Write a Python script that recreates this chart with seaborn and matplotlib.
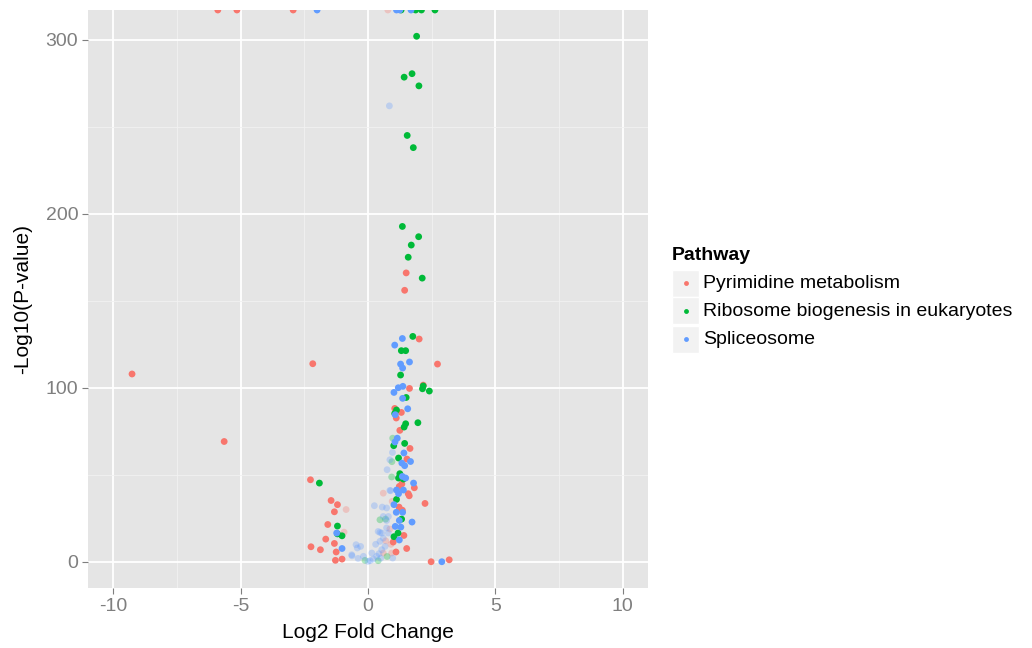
import numpy as np
import pandas as pd
import matplotlib.pyplot as plt
import seaborn as sns
from matplotlib.ticker import MultipleLocator
from matplotlib.patches import Rectangle
from matplotlib.lines import Line2D

pathways = ['Pyrimidine metabolism', 'Ribosome biogenesis in eukaryotes', 'Spliceosome']
colors = ['#F8766D', '#00BA38', '#619CFF']

# points with |log2FC| > 1 (np.inf = p-value of 0, drawn at the panel edge like ggplot)
pyr_fc = [-5.9, -5.15, -2.94, -9.27, -2.17, -5.65, -2.26, -1.45, -1.2, -1.32, -1.58, -1.66,
          -2.24, -1.87, -1.32, -1.25, -1.28, -1.02, 1.50, 1.44, 2.01, 2.73, 1.63, 2.17, 1.05,
          1.31, 1.11, 1.25, 1.65, 1.53, 1.33, 1.23, 1.82, 1.58, 1.62, 2.24, 1.22, 1.35, 1.41,
          1.52, 1.10, 0.99, 2.48, 3.19]
pyr_p = [np.inf, np.inf, np.inf, 107.9, 113.8, 69.1, 47.1, 35.2, 32.8, 28.7, 21.4, 13.0,
         8.6, 6.9, 10.5, 5.6, 0.8, 1.5, 166, 156, 128, 113.6, 99.6, 101.5, 88.1,
         85.8, 82.6, 75.5, 65.1, 59.0, 44.7, 43.3, 42.5, 39.1, 37.9, 33.5, 31.4, 29.6, 15.1,
         7.6, 5.6, 11.3, 0.0, 1.1]

rib_fc = [1.3, 1.87, 2.1, 2.63, 1.91, 1.42, 1.73, 2.0, 1.54, 1.78, 1.35, 1.99, 1.70, 1.58,
          2.13, 1.76, 1.31, 1.48, 1.28, 2.17, 2.14, 2.41, 1.50, 1.12, 1.05, 1.96, 1.48, 1.42,
          1.01, 1.44, 1.20, 1.25, 1.20, 1.39, 1.12, 1.32, 1.18, 1.02, -1.91, -1.2, -1.02, -1.2]
rib_p = [np.inf, np.inf, np.inf, np.inf, 302, 278.5, 280.5, 273.5, 245, 238, 192.7, 186.8, 182, 175,
         163, 129.5, 121.3, 121.3, 107.3, 101, 99.4, 98.1, 94.4, 87.2, 85.2, 79.9, 79.3, 77.4,
         66.7, 68.0, 59.6, 50.6, 48.1, 47.5, 35.8, 24.5, 16.5, 14.4, 45.2, 20.5, 14.9, 16.0]

spl_fc = [-2.0, 1.12, 1.25, 1.69, 1.35, 1.05, 1.28, 1.36, 1.63, 1.19, 1.37, 1.02, 1.36, 1.56,
          1.07, 1.15, 1.06, 1.41, 1.33, 1.44, 1.67, 1.35, 1.48, 1.79, 1.12, 1.39, 1.20, 1.02,
          1.11, 1.36, 1.23, 1.73, 1.07, 1.29, 1.23, 2.90, -1.23, -1.02]
spl_p = [np.inf, np.inf, np.inf, np.inf, 128.3, 124.5, 113.6, 111.3, 114.8, 100, 100.8, 97.3, 93.9, 87.9,
         84.5, 71.0, 68.8, 62.5, 56.7, 55.2, 57.6, 49.0, 48.1, 45.2, 41.2, 41.2, 39.1, 32.8,
         28.4, 28.4, 23.7, 22.8, 20.3, 19.9, 12.5, 0.0, 16.5, 7.6]

# points with |log2FC| < 1 (drawn faded)
pyr_fc_low = [0.78, -0.86, 0.6, 0.95, -0.94, 0.86, 0.6, 0.93, 0.7, 0.9]
pyr_p_low = [np.inf, 30.0, 39.4, 34.7, 17.0, 18.8, 5.0, 5.0, 12.0, 10.0]
rib_fc_low = [0.97, 0.94, 0.93, 0.47, 0.69, -0.12, 0.4, 0.75]
rib_p_low = [71.0, 57.5, 48.7, 24.1, 24.5, 0.8, 0.6, 3.0]
spl_fc_low = [-0.47, -0.29, -0.42, -0.64, -0.18, 0.0, 0.08, 0.21, 0.43, 0.54, 0.67, 0.47, 0.6,
              0.8, 0.54, 0.73, 0.4, 0.34, 0.97, 0.25, 0.56, 0.73, 0.75, 0.86, 0.96, 0.86, 0.89,
              0.73, -0.39, 0.84, 0.47, -0.63, 0.6, 0.8, 0.3, 0.15, 0.5]
spl_p_low = [9.8, 8.8, 7.9, 4.0, 3.1, 0.2, 0.6, 1.5, 4.6, 6.9, 8.8, 11.7, 13.6,
             16.5, 16.5, 19.4, 17.4, 3.1, 2.1, 32.2, 31.4, 30.9, 52.9, 58.6, 62.8, 41.0, 40.8,
             23.7, 1.9, 262, 16.8, 3.4, 26.0, 26.0, 10.0, 5.0, 2.0]


def make_df(fcs, ps):
    parts = []
    for name, fc, p in zip(pathways, fcs, ps):
        parts.append(pd.DataFrame({'fc': fc, 'logp': p, 'Pathway': name}))
    return pd.concat(parts, ignore_index=True)


df = make_df([pyr_fc, rib_fc, spl_fc], [pyr_p, rib_p, spl_p])
df_low = make_df([pyr_fc_low, rib_fc_low, spl_fc_low], [pyr_p_low, rib_p_low, spl_p_low])

# ggplot style limits: 5% expansion of finite range, infinite values sit on the edge
allp = pd.concat([df['logp'], df_low['logp']])
fin = allp[np.isfinite(allp)]
rng = fin.max() - fin.min()
ylo, yhi = fin.min() - 0.05 * rng, fin.max() + 0.05 * rng
df['y'] = np.minimum(df['logp'], yhi)
df_low['y'] = np.minimum(df_low['logp'], yhi)

plt.rcParams['font.family'] = ['Liberation Sans', 'DejaVu Sans']
plt.rcParams['axes.unicode_minus'] = False
fig = plt.figure(figsize=(10.32, 6.48), dpi=100)
ax = fig.add_axes([88 / 1032, 1 - 588 / 648, 560 / 1032, 578 / 648])
ax.set_facecolor('#E5E5E5')
pal = dict(zip(pathways, colors))

sns.scatterplot(data=df_low, x='fc', y='y', hue='Pathway', palette=pal, s=24, linewidth=0,
                alpha=0.3, legend=False, ax=ax, clip_on=True)
sns.scatterplot(data=df, x='fc', y='y', hue='Pathway', palette=pal, s=24, linewidth=0,
                legend=False, ax=ax, clip_on=True)

ax.set_xlim(-11, 11)
ax.set_ylim(ylo, yhi)
ax.xaxis.set_major_locator(MultipleLocator(5))
ax.xaxis.set_minor_locator(MultipleLocator(2.5))
ax.yaxis.set_major_locator(MultipleLocator(100))
ax.yaxis.set_minor_locator(MultipleLocator(50))
ax.grid(which='major', color='white', lw=1.3)
ax.grid(which='minor', color='#F2F2F2', lw=0.6)
ax.set_axisbelow(True)
for s in ax.spines.values():
    s.set_visible(False)
ax.tick_params(which='major', length=4, color='#7F7F7F', labelsize=14, labelcolor='#7F7F7F', pad=3)
ax.tick_params(which='minor', length=0)
ax.set_xlabel('Log2 Fold Change', fontsize=15, labelpad=6)
ax.set_ylabel('-Log10(P-value)', fontsize=15, labelpad=10)

# legend, drawn ggplot-like
fig.text(672 / 1032, 1 - 256 / 648, 'Pathway', fontsize=14, fontweight='bold', va='center')
for i, (name, c) in enumerate(zip(pathways, colors)):
    yc = 283 + 28 * i
    fig.add_artist(Rectangle((672 / 1032, 1 - (yc + 13.5) / 648), 27 / 1032, 27 / 648,
                             transform=fig.transFigure, facecolor='#F2F2F2', edgecolor='white', lw=1))
    fig.add_artist(Line2D([686 / 1032], [1 - yc / 648], marker='o', ms=3.5, color=c, mew=0,
                          transform=fig.transFigure))
    fig.text(703 / 1032, 1 - yc / 648, name, fontsize=14, va='center')

fig.savefig('out.png', dpi=100)
